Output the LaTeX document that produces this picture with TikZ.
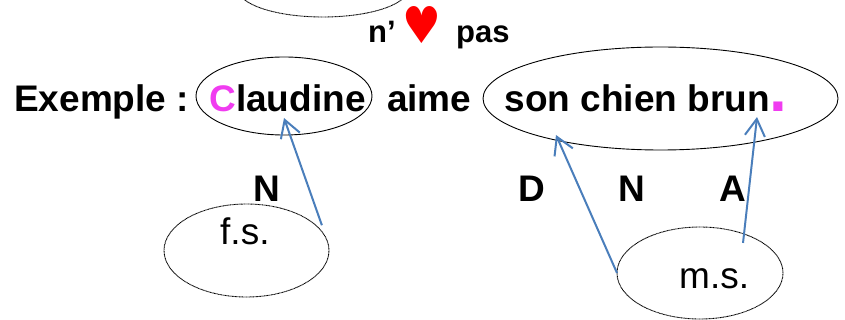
\documentclass[tikz,border=0pt]{standalone}
\usepackage{fontspec}
\setmainfont{Liberation Sans}
\newfontfamily\heartfont{DejaVu Sans}
\usetikzlibrary{positioning,calc,arrows.meta,shapes.geometric}
\definecolor{pinkLetter}{RGB}{240,60,240}
\definecolor{blueArrow}{RGB}{74,126,187}

\begin{document}
\begin{tikzpicture}[
      x=1pt,
      y=-1pt,
      node distance=20pt
    ]

    \tikzstyle{word} = [inner sep=0pt, font=\fontsize{37}{37}\selectfont\bfseries]
    \tikzstyle{small word} = [inner sep=0pt, font=\fontsize{31}{31}\selectfont\bfseries]
    \tikzstyle{gender} = [inner sep=0pt, font=\fontsize{37}{37}\selectfont]
    \tikzstyle{group} = [ellipse, inner sep=0pt, outer sep=0pt, draw=black, line width=0.9pt]
    \tikzstyle{note} = [ellipse, inner sep=0pt, outer sep=0pt, draw=black, line width=0.9pt, dash pattern=on 0.9pt off 0.5pt]
    \tikzstyle{arrow} = [-{Straight Barb[length=17pt,width=20pt]}, draw=blueArrow, line width=2pt]

    \path [use as bounding box, clip] (0,0) rectangle (845,320);

    % the sentence
    \node [word, anchor=base west] (example) at (14,112) {Exemple :};
    \node [word, base right=20pt of example] (claudine) {{\color{pinkLetter}C}laudine};
    \node [word, base right=21pt of claudine] (aime) {aime};
    \node [word, base right=33pt of aime] (chien) {son chien brun{\fontsize{64}{64}\selectfont\color{pinkLetter}.}};

    % negation above it
    \node [small word, anchor=base west] (ne) at (368,43) {n’};
    \node [inner sep=0pt, text=red, font=\heartfont\fontsize{47}{47}\selectfont, anchor=base] (heart) at (422,44) {\scalebox{0.92}[1.08]{♥}};
    \node [small word, anchor=base west] (pas) at (456,43) {pas};

    % classes
    \node [word, anchor=base] (classN) at (266.5,202) {N};
    \node [word, anchor=base] (classD) at (532,202) {D};
    \node [word, anchor=base] (classNn) at (632,202) {N};
    \node [word, anchor=base] (classA) at (733,202) {A};

    % ellipses
    \node [note, minimum width=170pt, minimum height=56pt] (top) at (323,-11) {};
    \node [group, minimum width=176pt, minimum height=78pt] (circClaudine) at (284,96) {};
    \node [group, minimum width=355pt, minimum height=103pt] (circChien) at (660.5,98.5) {};
    \node [note, minimum width=165pt, minimum height=93pt] (fs) at (246.5,250.5) {};
    \node [note, minimum width=166pt, minimum height=92pt] (ms) at (700,273) {};

    \node [gender, anchor=base west] (fsText) at (220,244) {f.s.};
    \node [gender, anchor=base west] (msText) at (679,288) {m.s.};

    \coordinate (tipClaudine) at (284,118);
    \coordinate (tipSon) at (556,135);
    \coordinate (tipBrun) at (757,117);

    \draw [arrow] ($(fs.19)+(5,-1)$) -- (tipClaudine);
    \draw [arrow] (ms.west) -- (tipSon);
    \draw [arrow] ($(ms.35)+(-8.5,6)$) -- (tipBrun);

\end{tikzpicture}
\end{document}
